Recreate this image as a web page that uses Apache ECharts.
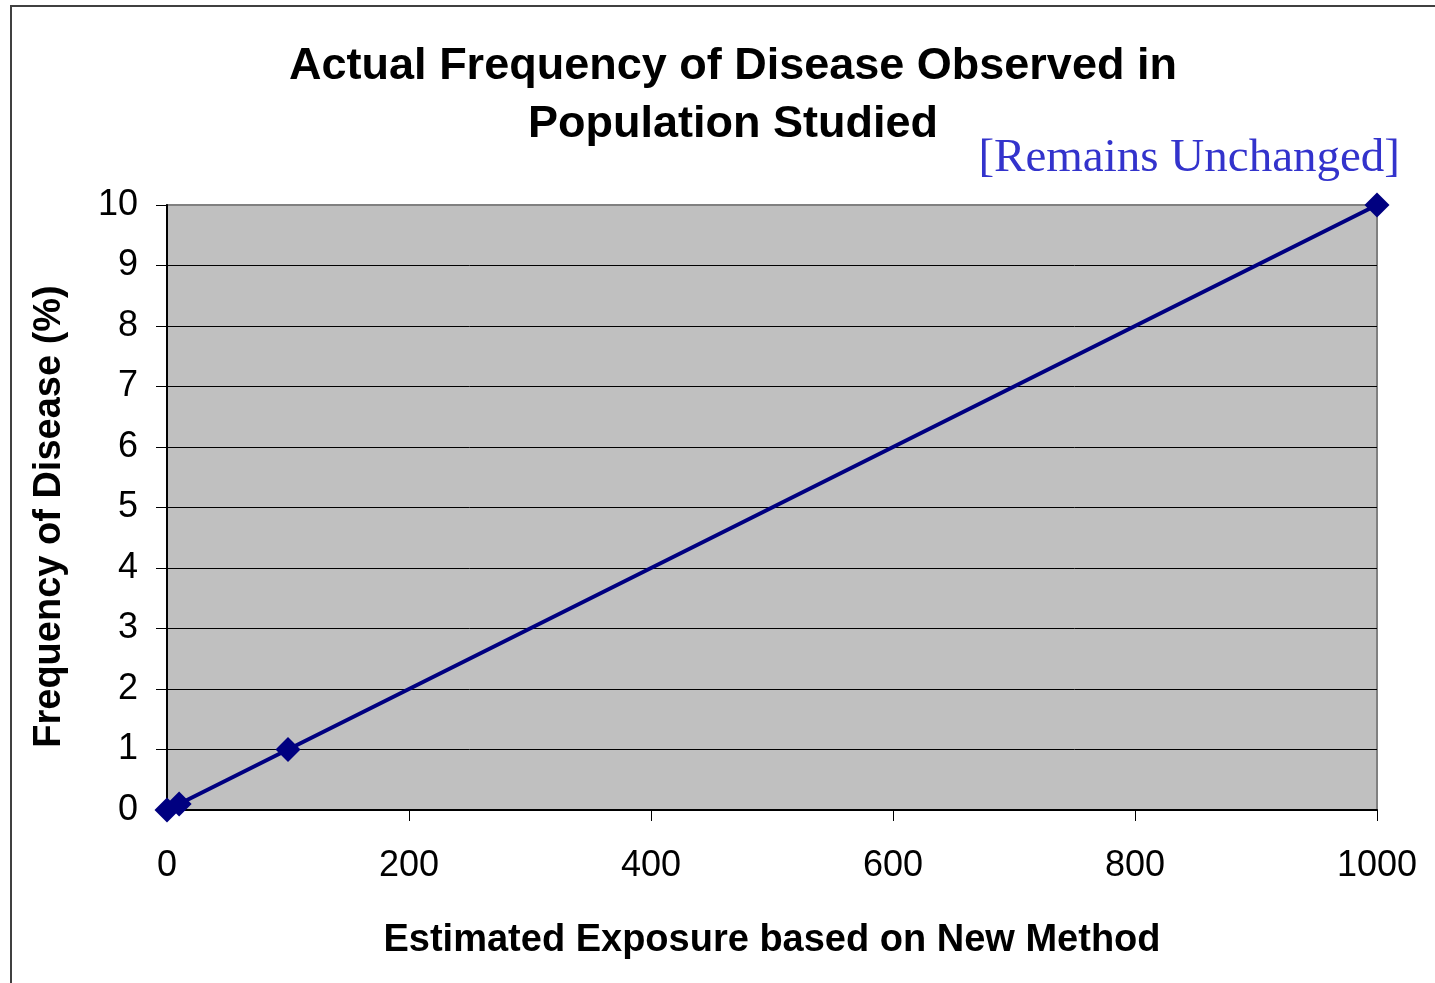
<!DOCTYPE html>
<html>
<head>
<meta charset="utf-8">
<script src="https://cdn.jsdelivr.net/npm/echarts@6/dist/echarts.min.js"></script>
<style>
  html, body { margin: 0; padding: 0; background: #ffffff; }
  #chart { width: 1435px; height: 983px; }
</style>
</head>
<body>
<div id="chart"></div>
<script>
// Estimated exposure (new method) and observed disease frequency (%)
var exposure = [0, 10, 100, 1000];
var frequency = [0, 0.1, 1, 10];
var yTicks = [0, 1, 2, 3, 4, 5, 6, 7, 8, 9, 10];
var xTicks = [0, 200, 400, 600, 800, 1000];

var titleText = 'Actual Frequency of Disease Observed in\nPopulation Studied';
var noteText = '[Remains Unchanged]';
var xName = 'Estimated Exposure based on New Method';
var yName = 'Frequency of Disease (%)';

var points = exposure.map(function (x, i) { return [x, frequency[i]]; });
var sans = '"Liberation Sans", Arial, sans-serif';

var chart = echarts.init(document.getElementById('chart'), null, { renderer: 'canvas' });
chart.setOption({
  backgroundColor: '#ffffff',
  animation: false,
  title: {
    text: titleText,
    left: 728,
    textAlign: 'center',
    top: 33,
    textStyle: {
      fontFamily: sans,
      fontSize: 45,
      fontWeight: 'bold',
      color: '#000000',
      lineHeight: 58
    }
  },
  graphic: [
    {
      type: 'rect',
      silent: true,
      shape: { x: 11, y: 6, width: 1500, height: 1100 },
      style: { fill: 'none', stroke: '#404040', lineWidth: 2 },
      z: 100
    },
    {
      type: 'text',
      right: 35,
      top: 135,
      style: {
        text: noteText,
        fontFamily: '"Liberation Serif", "Times New Roman", serif',
        fontSize: 47,
        fill: '#3333CC'
      }
    }
  ],
  grid: {
    left: 167,
    right: 58,
    top: 205,
    bottom: 173,
    show: true,
    backgroundColor: '#C0C0C0',
    borderColor: '#808080',
    borderWidth: 2
  },
  xAxis: {
    type: 'value',
    min: xTicks[0],
    max: xTicks[xTicks.length - 1],
    interval: xTicks[1] - xTicks[0],
    name: xName,
    nameLocation: 'middle',
    nameGap: 112,
    nameTextStyle: { fontFamily: sans, fontSize: 38, fontWeight: 'bold', color: '#000000' },
    axisLine: { show: true, lineStyle: { color: '#000000', width: 2 } },
    axisTick: { show: true, inside: false, length: 11, lineStyle: { color: '#000000', width: 1 } },
    axisLabel: { fontFamily: sans, fontSize: 36, color: '#000000', margin: 38, formatter: function (v) { return String(v); } },
    splitLine: { show: false }
  },
  yAxis: {
    type: 'value',
    min: yTicks[0],
    max: yTicks[yTicks.length - 1],
    interval: yTicks[1] - yTicks[0],
    name: yName,
    nameLocation: 'middle',
    nameGap: 98,
    nameTextStyle: { fontFamily: sans, fontSize: 38, fontWeight: 'bold', color: '#000000', padding: [0, 18, 0, 0] },
    axisLine: { show: true, lineStyle: { color: '#000000', width: 2 } },
    axisTick: { show: true, inside: false, length: 11, lineStyle: { color: '#000000', width: 1 } },
    axisLabel: { fontFamily: sans, fontSize: 36, color: '#000000', margin: 29 },
    splitLine: { show: true, showMaxLine: false, lineStyle: { color: '#000000', width: 1 } }
  },
  series: [
    {
      type: 'line',
      data: points,
      smooth: 0.3,
      symbol: 'diamond',
      symbolSize: 25,
      lineStyle: { color: '#000080', width: 4 },
      itemStyle: { color: '#000080' },
      clip: false,
      z: 5
    }
  ]
});
</script>
</body>
</html>
